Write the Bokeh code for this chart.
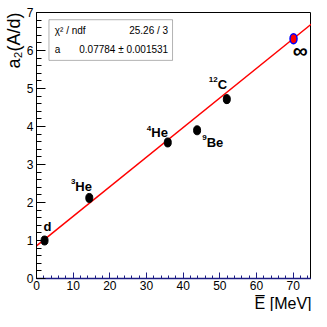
from bokeh.plotting import figure
from bokeh.models import Range1d, Label, BoxAnnotation, FixedTicker, ColumnDataSource, Title
from bokeh.embed import file_html
from bokeh.resources import INLINE

# ---- data ----
nuclei = ["d", "3He", "4He", "9Be", "12C"]
e_mean = [2.2, 14.4, 35.8, 43.8, 51.9]
a2 = [1.00, 2.12, 3.58, 3.90, 4.72]
a2_err = [0.06, 0.07, 0.05, 0.09, 0.12]
inf_e = [70.1]
inf_a2 = [6.31]
inf_err = [0.08]
fit_slope = 0.07784
fit_icpt = 0.86
fit_xrange = [0.0, 75.0]
chi2_text = "25.26 / 3"
par_text = "0.07784 \u00b1 0.001531"

FONT = "'Liberation Sans Narrow', 'Liberation Sans', sans-serif"

p = figure(width=311, height=311, output_backend="svg", toolbar_location=None,
           x_range=Range1d(0, 75), y_range=Range1d(0, 7),
           min_border_left=36, min_border_right=0, min_border_top=12, min_border_bottom=33)
p.grid.visible = False
p.outline_line_color = "black"
p.outline_line_width = 1
p.background_fill_color = "white"

# axes styling (ROOT-like: ticks inside)
p.xaxis.ticker = FixedTicker(ticks=list(range(0, 80, 10)), minor_ticks=list(range(0, 76, 2)))
p.yaxis.ticker = FixedTicker(ticks=list(range(0, 8)), minor_ticks=[i * 0.2 for i in range(36)])
for ax in (p.xaxis[0], p.yaxis[0]):
    ax.major_tick_out = 0
    ax.minor_tick_out = 0
    ax.major_label_text_font = FONT
    ax.major_label_text_font_size = "12px"
    ax.major_label_text_color = "black"
p.xaxis.major_tick_in = 6
p.xaxis.minor_tick_in = 3
p.yaxis.major_tick_in = 9
p.yaxis.minor_tick_in = 5
p.xaxis.axis_line_color = "#1c1c84"
p.xaxis.major_tick_line_color = "#1c1c84"
p.xaxis.minor_tick_line_color = "#1c1c84"
p.xaxis.axis_line_width = 1.5
p.yaxis.axis_line_color = "black"
p.xaxis.major_label_standoff = 2
p.yaxis.major_label_standoff = 3

# axis titles (ROOT aligns them at the axis end)
p.add_layout(Title(text="E\u0305 [MeV]", align="right", text_font=FONT, text_font_size="16px",
                   text_font_style="normal", text_color="black", standoff=0), "below")
p.add_layout(Title(text="a\u2082(A/d)", align="right", text_font=FONT, text_font_size="18px",
                   text_font_style="normal", text_color="black", standoff=0), "left")

# fit line
fit_y = [fit_icpt + fit_slope * x for x in fit_xrange]
p.line(fit_xrange, fit_y, line_color="red", line_width=1.5)

# data points with error bars
src = ColumnDataSource(dict(x=e_mean, y=a2,
                            lo=[v - e for v, e in zip(a2, a2_err)],
                            hi=[v + e for v, e in zip(a2, a2_err)]))
p.segment(x0="x", y0="lo", x1="x", y1="hi", source=src, line_color="black", line_width=2)
p.ellipse(x="x", y="y", width=7, height=9, width_units="screen", height_units="screen",
          source=src, fill_color="black", line_color="black")

isrc = ColumnDataSource(dict(x=inf_e, y=inf_a2,
                             lo=[v - e for v, e in zip(inf_a2, inf_err)],
                             hi=[v + e for v, e in zip(inf_a2, inf_err)]))
p.segment(x0="x", y0="lo", x1="x", y1="hi", source=isrc, line_color="blue", line_width=2)
p.ellipse(x="x", y="y", width=7, height=10, width_units="screen", height_units="screen",
          source=isrc, fill_color="red", line_color="blue", line_width=1.5)

# nucleus labels: (superscript, element, x, y)
tags = [("", "d", 1.9, 1.38), ("3", "He", 10.6, 2.43), ("4", "He", 31.3, 3.83),
        ("9", "Be", 46.4, 3.58), ("12", "C", 49.4, 5.11)]
for sup, el, x, y in tags:
    p.add_layout(Label(x=x, y=y, text=el, text_font=FONT, text_font_size="13px",
                       text_font_style="bold", text_color="black",
                       text_align="left", text_baseline="middle"))
    if sup:
        p.add_layout(Label(x=x, y=y + 0.13, text=sup, text_font=FONT, text_font_size="8px",
                           text_font_style="bold", text_color="black",
                           text_align="right", text_baseline="middle"))
p.add_layout(Label(x=71.9, y=6.0, text="\u221e", text_font=FONT, text_font_size="21px",
                   text_font_style="bold", text_color="black",
                   text_align="center", text_baseline="middle"))

# stats box
p.add_layout(BoxAnnotation(left=3.4, right=37.1, bottom=5.74, top=6.81,
                           fill_color="white", fill_alpha=1.0, line_color="black", line_width=1))
for txt, x, y, al in [("\u03c7\u00b2 / ndf", 5.0, 6.53, "left"), ("a", 5.0, 6.03, "left"),
                      (chi2_text, 35.9, 6.53, "right"), (par_text, 35.9, 6.03, "right")]:
    p.add_layout(Label(x=x, y=y, text=txt, text_font=FONT, text_font_size="10px",
                       text_color="black", text_align=al, text_baseline="middle"))

open("out.html", "w").write(file_html(p, INLINE))
